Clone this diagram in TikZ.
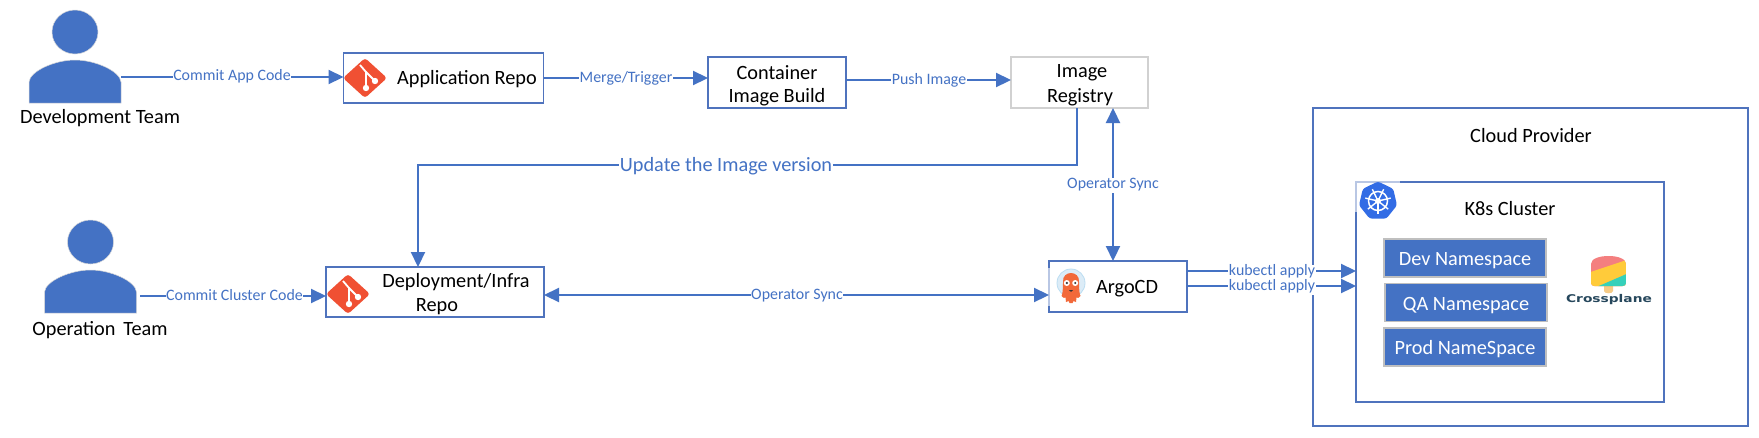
\documentclass[tikz,border=0pt]{standalone}
\usepackage{fontspec}
\setmainfont{Carlito}
\newfontfamily\cpfont{DejaVu Sans}
\usetikzlibrary{arrows.meta,calc}
\definecolor{blu}{HTML}{4472C4}
\definecolor{edge}{HTML}{4F73BD}
\definecolor{gitred}{HTML}{F05033}
\definecolor{kblue}{HTML}{326CE5}
\definecolor{palee}{HTML}{B9C7E4}
\definecolor{halo}{HTML}{DCECF7}
\definecolor{haloedge}{HTML}{BBDDF2}
\definecolor{argoor}{HTML}{F2693A}
\definecolor{cpred}{HTML}{F47F7F}
\definecolor{cpyel}{HTML}{FFCB3A}
\definecolor{cptea}{HTML}{35D0BA}
\definecolor{cpstk}{HTML}{F6CB86}
\definecolor{cptxt}{HTML}{26475C}
\tikzset{
  box/.style={draw=edge,line width=1.5pt,fill=white,outer sep=0pt,inner sep=0pt,align=center},
  graybox/.style={box,draw=black!18},
  frame/.style={draw=edge,line width=1.5pt,outer sep=0pt,inner sep=0pt},
  nsbox/.style={draw=black!25,line width=1.5pt,fill=blu,text=white,minimum width=162pt,minimum height=38pt,outer sep=0pt,inner sep=0pt,text height=19pt,text depth=4pt,font=\fontsize{20.3}{24}\selectfont},
  txt/.style={inner sep=0pt,yshift=-1.5pt,font=\fontsize{20.3}{24}\selectfont},
  lbl/.style={fill=white,text=blu,inner sep=0.6pt,yshift=-1.3pt,font=\fontsize{15.9}{18}\selectfont,text height=10.5pt,text depth=3.5pt},
  biglbl/.style={lbl,yshift=-0.7pt,font=\fontsize{20.3}{24}\selectfont,text height=14pt,text depth=4.5pt},
  conn/.style={draw=blu,line width=2.2pt,-{Triangle[length=15pt,width=14pt]}},
  both/.style={draw=blu,line width=2.2pt,{Triangle[length=15pt,width=14pt]}-{Triangle[length=15pt,width=14pt]}},
  person/.pic={
    \fill[blu,draw=black!15,line width=.5pt] (0,-71) ellipse (23 and 22);
    \fill[blu,draw=black!15,line width=.5pt] (-46,0) -- (-46,-21) .. controls (-45,-32) and (-20,-43) .. (0,-43) .. controls (20,-43) and (45,-32) .. (46,-21) -- (46,0) -- cycle;
  },
  gitlogo/.pic={
    \fill[gitred,rounded corners=3pt] (0,-20) -- (22,0) -- (0,20) -- (-22,0) -- cycle;
    \draw[white,line width=1.8pt] (-5,-13) -- (1,-6) -- (1,9);
    \draw[white,line width=1.8pt] (1,-6) -- (10,3);
    \fill[white] (1,10) circle (3.2) (10,3) circle (3.2);
  },
  argologo/.pic={
    \fill[halo,draw=haloedge,line width=.8pt] (0,-4) circle (14);
    \fill[argoor] (-8,-5) .. controls (-9,-17) and (9,-17) .. (8,-5) .. controls (8,3) and (8.5,7) .. (9.5,9) .. controls (8,11.5) and (6.5,11) .. (5.5,10.5) -- (5,15) -- (2.5,14) -- (1.5,16) -- (-1.5,16) -- (-2.5,14) -- (-5,15) -- (-5.5,10.5) .. controls (-6.5,11) and (-8,11.5) .. (-9.5,9) .. controls (-8.5,7) and (-8,3) .. (-8,-5) -- cycle;
    \fill[white] (-4.2,-4) circle (3) (4.2,-4) circle (3);
    \fill[black!80] (-4.2,-4) circle (1.2) (4.2,-4) circle (1.2);
    \fill[black!80] (-2.2,3) .. controls (-1,5.5) and (1,5.5) .. (2.2,3) -- cycle;
  },
  k8slogo/.pic={
    \fill[kblue,rounded corners=2.5pt] (0,-19.5) -- (15.2,-12.2) -- (19,4.3) -- (8.4,17.6) -- (-8.4,17.6) -- (-19,4.3) -- (-15.2,-12.2) -- cycle;
    \draw[white,line width=1.5pt] (0,0) circle (9.5);
    \foreach \a in {90,141.4,192.9,244.3,295.7,347.1,38.6}
      \draw[white,line width=1.4pt] (0,0) -- (\a:13);
    \fill[white] (0,0) circle (3);
  },
  crosslogo/.pic={
    \fill[cpstk] (-4.5,12) -- (4.5,12) -- (4.5,20) .. controls (4.5,23) and (-4.5,23) .. (-4.5,20) -- cycle;
    \begin{scope}
      \clip (-17.5,-7) .. controls (-17.5,-12) and (-10,-15) .. (0,-15) .. controls (10,-15) and (17.5,-12) .. (17.5,-7) -- (17.5,12) .. controls (17.5,14) and (16,15) .. (14,15) -- (-14,15) .. controls (-16,15) and (-17.5,14) .. (-17.5,12) -- cycle;
      \fill[cpred] (-18,-16) rectangle (18,16);
      \fill[cpyel] (-18,1) -- (18,-11) -- (18,16) -- (-18,16) -- cycle;
      \fill[cptea] (-12,16) -- (18,3) -- (18,16) -- cycle;
    \end{scope}
  }
}
\begin{document}
\begin{tikzpicture}[x=1pt,y=-1pt]
\useasboundingbox (0,0) rectangle (1759,437);
\fill[white] (0,0) rectangle (1759,437);

% containers
\node[frame,minimum width=435pt,minimum height=318pt] (cloud) at (1530.5,267) {};
\node[frame,minimum width=308pt,minimum height=220pt,fill=white] (k8s) at (1510,292) {};
\node[txt] (cloudt) at (1531,134) {Cloud Provider};
\node[txt] (k8st) at (1510,207) {K8s Cluster};
\draw[palee,line width=1.6pt] (1356,212) -- (1356,182) -- (1400,182);

% boxes
\node[box,minimum width=200pt,minimum height=50pt] (app) at (443.5,78) {};
\node[box,minimum width=218pt,minimum height=50pt] (dep) at (435,292) {};
\node[box,minimum width=138pt,minimum height=51pt] (cont) at (777,82.5) {};
\node[graybox,minimum width=137pt,minimum height=51pt] (reg) at (1079.5,82.5) {};
\node[box,minimum width=138pt,minimum height=51pt] (argo) at (1118,286.5) {};
\draw[palee,line width=1.6pt] (1049,268) -- (1049,306);

% box texts
\node[txt] (appt) at (467,78) {Application Repo};
\node[txt] (dept1) at (456,281) {Deployment/Infra};
\node[txt] (dept2) at (437,305) {Repo};
\node[txt] (contt1) at (777,71) {Container};
\node[txt] (contt2) at (777,96) {Image Build};
\node[txt] (regt1) at (1082,71) {Image};
\node[txt] (regt2) at (1080,96) {Registry};
\node[txt] (argot) at (1127,287) {ArgoCD};

% namespaces
\node[nsbox] (dev) at (1465,258) {Dev Namespace};
\node[nsbox] (qa) at (1466,302.5) {QA Namespace};
\node[nsbox] (prod) at (1465,347) {Prod NameSpace};

% people
\coordinate (devp) at (75,103);
\coordinate (opp) at (90.5,313);
\pic at (devp) {person};
\pic at (opp) {person};
\node[txt] (devt) at (100,117) {Development Team};
\node[txt] (opt) at (100,329) {Operation\, Team};
\coordinate (devs) at (121,77);
\coordinate (ops) at (140,296);

% icons
\pic at (365,78) {gitlogo};
\pic at (348,294) {gitlogo};
\pic at (1071,287) {argologo};
\pic at (1378,201) {k8slogo};
\pic at (1608.5,271) {crosslogo};
\node[inner sep=0pt,text=cptxt,font=\cpfont\bfseries\fontsize{13}{15}\selectfont] (crosst) at (1609,299.5) {\scalebox{1.06}[0.82]{Crossplane}};

% connectors
\draw[conn] (devs) -- (devs -| app.west);
\draw[conn] (app.east) -- (app.east -| cont.west);
\coordinate (pushs) at (cont.east |- 0,80);
\draw[conn] (pushs) -- (pushs -| reg.west);
\coordinate (upds) at (1077,108);
\coordinate (updc) at (1077,165);
\coordinate (updl) at (418,165);
\draw[conn] (upds) -- (updc) -- (updl) -- (updl |- dep.north);
\coordinate (syncv) at (1113,108);
\draw[both] (syncv) -- (syncv |- argo.north);
\draw[conn] (ops) -- (ops -| dep.west);
\coordinate (synch) at (dep.east |- 0,295);
\draw[both] (synch) -- (synch -| argo.west);
\coordinate (k1) at (argo.east |- 0,271);
\coordinate (k2) at (argo.east |- 0,286);
\draw[conn] (k1) -- (k1 -| k8s.west);
\draw[conn] (k2) -- (k2 -| k8s.west);

% connector labels
\node[lbl] (l1) at (232,76) {Commit App Code};
\node[lbl] (l2) at (626,78) {Merge/Trigger};
\node[lbl] (l3) at (929,80) {Push Image};
\node[biglbl] (l4) at (726,165) {Update the Image version};
\node[lbl] (l5) at (1113,184) {Operator Sync};
\node[lbl] (l6) at (234.5,296) {Commit Cluster Code};
\node[lbl] (l7) at (797,295) {Operator Sync};
\node[lbl] (l8) at (1272,271) {kubectl apply};
\node[lbl] (l9) at (1272,286) {kubectl apply};
\end{tikzpicture}
\end{document}
